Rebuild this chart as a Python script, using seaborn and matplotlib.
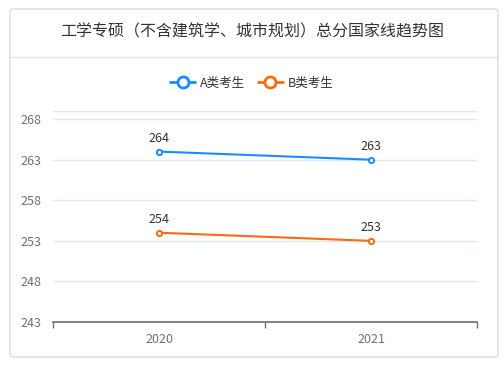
import pandas as pd
import matplotlib.pyplot as plt
import seaborn as sns
from matplotlib.lines import Line2D
from matplotlib.patches import FancyBboxPatch

years = [2020, 2021]
a_scores = [264, 263]
b_scores = [254, 253]
series_names = ["A类考生", "B类考生"]
title = "工学专硕（不含建筑学、城市规划）总分国家线趋势图"
y_ticks = [243, 248, 253, 258, 263, 268]

df = pd.DataFrame({
    "year": years * 2,
    "score": a_scores + b_scores,
    "group": [series_names[0]] * 2 + [series_names[1]] * 2,
})

sns.set_theme(style="white")
plt.rcParams["font.family"] = ["Noto Sans CJK SC", "DejaVu Sans"]

colors = {"A类考生": "#1a8cff", "B类考生": "#ff6a0d"}

W, H = 504, 366
fig = plt.figure(figsize=(W / 100, H / 100), dpi=100)

# card background
card = FancyBboxPatch((10 / W, 9 / H), 488 / W, 348 / H,
                      boxstyle="round,pad=0,rounding_size=0.008",
                      transform=fig.transFigure, facecolor="white",
                      edgecolor="#dcdcdc", linewidth=1, zorder=-5)
fig.patches.append(card)
fig.add_artist(Line2D([10 / W, 498 / W], [1 - 57 / H, 1 - 57 / H],
                      transform=fig.transFigure, color="#e3e3e3", lw=1))
fig.text(0.5, 1 - 32 / H, title, ha="center", va="center",
         fontsize=11.5, color="#333333")

ax = fig.add_axes([53 / W, 1 - 322 / H, 424 / W, 211 / H])
ax.set_zorder(5)
ax.patch.set_alpha(0)
sns.lineplot(data=df, x="year", y="score", hue="group", palette=colors,
             marker="o", markersize=3.8, markerfacecolor="white",
             linewidth=1.5, legend=False, ax=ax, zorder=3)
for line in ax.lines:
    line.set_markeredgecolor(line.get_color())
    line.set_markeredgewidth(1.4)

ax.set_xlim(years[0] - 0.5, years[-1] + 0.5)
ax.set_xticks(years)
ax.set_xticklabels([str(y) for y in years])
ax.set_xticks([years[0] - 0.5, years[0] + 0.5, years[-1] + 0.5], minor=True)
ax.set_ylim(243, 269)
ax.set_yticks(y_ticks)
for y in y_ticks[1:] + [269]:
    ax.axhline(y, color="#e0e6f1", lw=1, zorder=1)

for vals in [a_scores, b_scores]:
    for yr, v in zip(years, vals):
        ax.annotate(str(v), (yr, v), xytext=(0, 5), textcoords="offset points",
                    ha="center", va="bottom", fontsize=9, color="#333333")

for s in ["top", "right", "left"]:
    ax.spines[s].set_visible(False)
ax.spines["bottom"].set_color("#6e7079")
ax.set_xlabel("")
ax.set_ylabel("")
ax.tick_params(axis="y", length=0, labelsize=9, labelcolor="#6e7079", pad=8)
ax.tick_params(axis="x", which="major", length=0, labelsize=9,
               labelcolor="#6e7079", pad=8)
ax.tick_params(axis="x", which="minor", length=4, width=1, color="#6e7079",
               direction="out", bottom=True)

handles = [Line2D([0], [0], color=colors[n], lw=2, marker="o", markersize=8,
                  markerfacecolor="white", markeredgewidth=2) for n in series_names]
fig.legend(handles, series_names, loc="center", bbox_to_anchor=(0.5, 1 - 83 / H),
           ncol=2, frameon=False, fontsize=9, handlelength=2.0,
           handletextpad=0.4, columnspacing=1.0, labelcolor="#333333")

fig.savefig("out.png", dpi=100)
